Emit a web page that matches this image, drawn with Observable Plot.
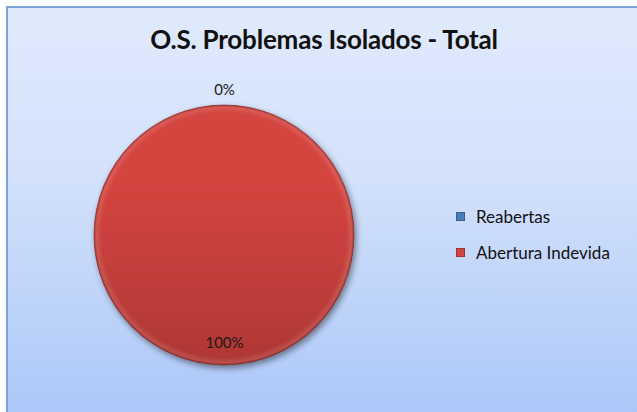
<!DOCTYPE html>
<html>
<head>
<meta charset="utf-8">
<script src="https://cdn.jsdelivr.net/npm/d3@7"></script>
<script src="https://cdn.jsdelivr.net/npm/@observablehq/plot@0.6"></script>
<style>
  html, body { margin: 0; padding: 0; background: #ffffff; }
  #wrap { position: relative; width: 637px; height: 412px; overflow: hidden; font-family: Lato, "Open Sans", sans-serif; }
  #frame { position: absolute; left: 6px; top: 6px; width: 640px; height: 420px;
           border-left: 2px solid #7ea3d6; border-top: 2px solid #7ea3d6;
           background: linear-gradient(to bottom, #e0eafc 0%, #d3e1fb 40%, #a9c6f8 100%); }
  #chart { position: absolute; left: 0; top: 0; }
  #title { position: absolute; left: 8px; width: 632px; top: 23px; text-align: center;
           font-weight: bold; font-size: 26px; color: #111; letter-spacing: -0.2px; }
  #legend { position: absolute; left: 456px; top: 198px; font-size: 17px; color: #111; }
  .item { display: flex; align-items: center; height: 36px; }
  .sw { width: 7px; height: 7px; margin-right: 11px; border: 1px solid rgba(0,0,0,0.25); }
</style>
</head>
<body>
<div id="wrap">
  <div id="frame"></div>
  <div id="chart"></div>
  <div id="title"></div>
  <div id="legend"></div>
</div>
<script>
const title = "O.S. Problemas Isolados - Total";
const categories = ["Reabertas", "Abertura Indevida"];
const values = [0, 100];
const colors = ["#4a7ebb", "#d4443f"];

const total = d3.sum(values);
const arcs = d3.pie().sort(null).value(d => d)(values);
const slices = categories.map((c, i) => {
  const a = arcs[i];
  const mid = (a.startAngle + a.endAngle) / 2;
  const pct = values[i] / total;
  const k = pct < 0.05 ? 1.12 : 0.83;
  return {
    category: c, value: values[i], pct,
    label: d3.format(".0%")(pct),
    startAngle: a.startAngle, endAngle: a.endAngle,
    lx: Math.sin(mid) * k, ly: Math.cos(mid) * k
  };
});

function pieMark(index, scales, values_, dims) {
  const cx = scales.x(0), cy = scales.y(0);
  const r = scales.x(1) - scales.x(0);
  const svgns = "http://www.w3.org/2000/svg";
  const g = document.createElementNS(svgns, "g");
  const defs = document.createElementNS(svgns, "defs");
  defs.innerHTML = `
    <filter id="shadow" x="-20%" y="-20%" width="140%" height="140%">
      <feGaussianBlur in="SourceAlpha" stdDeviation="3"/>
      <feOffset dx="2" dy="3" result="b"/>
      <feComponentTransfer><feFuncA type="linear" slope="0.45"/></feComponentTransfer>
      <feMerge><feMergeNode/><feMergeNode in="SourceGraphic"/></feMerge>
    </filter>
    <linearGradient id="shade" x1="0" y1="0" x2="0" y2="1">
      <stop offset="0.3" stop-color="#000" stop-opacity="0"/>
      <stop offset="1" stop-color="#000" stop-opacity="0.18"/>
    </linearGradient>
    <radialGradient id="bevel" cx="0.5" cy="0.5" r="0.5">
      <stop offset="0.94" stop-color="#fff" stop-opacity="0"/>
      <stop offset="0.98" stop-color="#fff" stop-opacity="0.12"/>
      <stop offset="1" stop-color="#000" stop-opacity="0.15"/>
    </radialGradient>`;
  g.appendChild(defs);
  const arc = d3.arc().innerRadius(0).outerRadius(r);
  const pg = document.createElementNS(svgns, "g");
  pg.setAttribute("transform", `translate(${cx},${cy})`);
  pg.setAttribute("filter", "url(#shadow)");
  slices.forEach((s, i) => {
    if (s.endAngle - s.startAngle <= 0) return;
    const p = document.createElementNS(svgns, "path");
    p.setAttribute("d", arc(s));
    p.setAttribute("fill", colors[i]);
    p.setAttribute("stroke", "#7a2a27");
    p.setAttribute("stroke-width", "0.6");
    pg.appendChild(p);
    const p2 = document.createElementNS(svgns, "path");
    p2.setAttribute("d", arc(s));
    p2.setAttribute("fill", "url(#shade)");
    pg.appendChild(p2);
    const p3 = document.createElementNS(svgns, "path");
    p3.setAttribute("d", arc(s));
    p3.setAttribute("fill", "url(#bevel)");
    pg.appendChild(p3);
  });
  g.appendChild(pg);
  return g;
}

const R = 130, CX = 224, CY = 235, W = 637, H = 412;
const chart = Plot.plot({
  width: W, height: H,
  margin: 0,
  style: { background: "transparent", overflow: "visible" },
  x: { domain: [-CX / R, (W - CX) / R], axis: null },
  y: { domain: [-(H - CY) / R, CY / R], axis: null },
  marks: [
    pieMark,
    Plot.text(slices, {
      x: "lx", y: "ly", text: "label",
      fontSize: 15, fill: "#1a1a1a",
      fontFamily: "Lato, 'Open Sans', sans-serif"
    })
  ]
});
document.getElementById("chart").appendChild(chart);
document.getElementById("title").textContent = title;

const legend = document.getElementById("legend");
categories.forEach((c, i) => {
  const it = document.createElement("div");
  it.className = "item";
  const sw = document.createElement("span");
  sw.className = "sw";
  sw.style.background = colors[i];
  const t = document.createElement("span");
  t.textContent = c;
  it.appendChild(sw); it.appendChild(t);
  legend.appendChild(it);
});
</script>
</body>
</html>
